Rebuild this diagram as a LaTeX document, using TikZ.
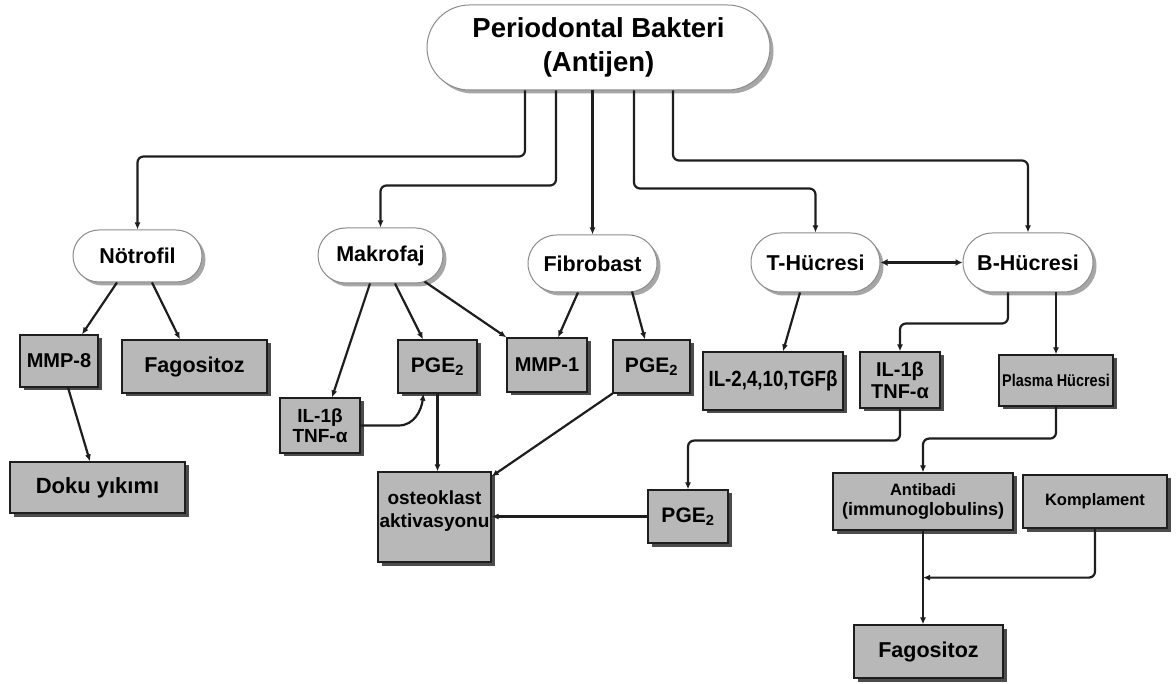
\documentclass[tikz,border=0pt]{standalone}
\usepackage{fontspec}
\setmainfont{Liberation Sans}
\newfontfamily\narrowsans{Liberation Sans}[FakeStretch=0.85]
\usetikzlibrary{arrows.meta,shapes.misc,shadows,calc}
\definecolor{boxfill}{RGB}{184,184,184}
\definecolor{inkline}{RGB}{30,30,30}
\newcommand\sz[2]{\fontsize{#1}{#2}\selectfont\bfseries}
\begin{document}
\begin{tikzpicture}[x=1pt,y=-1pt,
  cell/.style={rounded rectangle, draw=black!45, line width=1pt, fill=white,
    inner sep=0pt, align=center,
    drop shadow={shadow xshift=3.5pt, shadow yshift=-3.5pt, fill=black!35, opacity=1}},
  item/.style={rectangle, draw=inkline, line width=1.2pt, fill=boxfill,
    inner sep=0pt, align=center,
    drop shadow={shadow xshift=3.5pt, shadow yshift=-3.5pt, fill=black!70, opacity=1}},
  link/.style={draw=inkline, line width=2.2pt, -{Latex[length=7pt,width=6pt]}},
  elbow/.style={link, rounded corners=6pt}]

\useasboundingbox[fill=white] (0,0) rectangle (1176,684);

% root and cell types
\node[cell, minimum width=343pt, minimum height=85pt, font={\sz{27.5}{34}}] (top) at (598.5,47.5) {Periodontal Bakteri\\(Antijen)};
\node[cell, minimum width=129pt, minimum height=52pt, font={\sz{21.5}{24}}] (notrofil) at (137.5,256) {Nötrofil};
\node[cell, minimum width=125pt, minimum height=55pt, font={\sz{21.5}{24}}] (makrofaj) at (380.5,255.5) {Makrofaj};
\node[cell, minimum width=129pt, minimum height=57pt, font={\sz{21.5}{24}}] (fibrobast) at (592.5,263.5) {Fibrobast};
\node[cell, minimum width=129pt, minimum height=59pt, font={\sz{21.5}{24}}] (thucre) at (815.5,262.5) {T-Hücresi};
\node[cell, minimum width=130pt, minimum height=59pt, font={\sz{21.5}{24}}] (bhucre) at (1028,262.5) {B-Hücresi};

% products
\node[item, minimum width=78pt, minimum height=52pt, font={\sz{20}{22}}] (mmp8) at (59,361) {MMP-8};
\node[item, minimum width=145pt, minimum height=53pt, font={\sz{21.5}{24}}] (fago1) at (194.5,366.5) {Fagositoz};
\node[item, minimum width=175pt, minimum height=51pt, font={\sz{22}{24}}] (doku) at (97.5,487.5) {Doku yıkımı};
\node[item, minimum width=80pt, minimum height=55pt, font={\sz{19}{20}}] (ilL) at (320,425.5) {IL-1β\\TNF-α};
\node[item, minimum width=79pt, minimum height=53pt, font={\sz{21}{24}}] (pge1) at (437.5,366.5) {PGE\textsubscript{2}};
\node[item, minimum width=80pt, minimum height=54pt, font={\sz{20}{22}}] (mmp1) at (547,365) {MMP-1};
\node[item, minimum width=77pt, minimum height=53pt, font={\sz{21}{24}}] (pge2) at (651.5,366.5) {PGE\textsubscript{2}};
\node[item, minimum width=113pt, minimum height=90pt] (osteo) at (434.5,517) {};
\node[font={\sz{19}{23}}, align=center, inner sep=0pt] (osteolabel) at (434.5,511) {osteoklast\\aktivasyonu};
\node[item, minimum width=80pt, minimum height=53pt, font={\sz{21}{24}}] (pge3) at (688,516.5) {PGE\textsubscript{2}};
\node[item, minimum width=140pt, minimum height=58pt, font={\narrowsans\sz{22}{24}}] (il2) at (773,381) {IL-2,4,10,TGFβ};
\node[item, minimum width=80pt, minimum height=56pt, font={\sz{20}{22}}] (ilR) at (900,380) {IL-1β\\TNF-α};
\node[item, minimum width=114pt, minimum height=51pt, font={\narrowsans\sz{17}{20}}] (plasma) at (1056,380.5) {Plasma Hücresi};
\node[item, minimum width=180pt, minimum height=57pt, font={\sz{16.5}{20}}] (antibadi) at (923,501.5) {Antibadi\\{\fontsize{18}{20}\selectfont(immunoglobulins)}};
\node[item, minimum width=144pt, minimum height=53pt, font={\sz{16.5}{20}}] (kompl) at (1095,501.5) {Komplament};
\node[item, minimum width=149pt, minimum height=53pt, font={\sz{21.5}{24}}] (fago2) at (928.5,651.5) {Fagositoz};

% branches from the root
\draw[elbow] ([xshift=-73.5pt]top.south) -- ++(0,66) -| (notrofil.north);
\draw[elbow] ([xshift=-42.5pt]top.south) -- ++(0,95) -| (makrofaj.north);
\draw[link] (fibrobast.north |- top.south) -- (fibrobast.north);
\draw[elbow] ([xshift=35.5pt]top.south) -- ++(0,98) -| (thucre.north);
\draw[elbow] ([xshift=74.5pt]top.south) -- ++(0,70) -| (bhucre.north);

% neutrophil
\draw[link] ([xshift=-20.5pt]notrofil.south) -- ([xshift=23pt]mmp8.north);
\draw[link] ([xshift=14.5pt]notrofil.south) -- ([xshift=-14.5pt]fago1.north);
\draw[link] ([xshift=9pt]mmp8.south) -- ([xshift=-7.5pt]doku.north);

% macrophage
\draw[link] ([xshift=-10.5pt]makrofaj.south) -- ([xshift=12pt]ilL.north);
\draw[link] ([xshift=14.5pt]makrofaj.south) -- ([xshift=-14.5pt]pge1.north);
\draw[link] ([xshift=44pt,yshift=2pt]makrofaj.south) -- (mmp1.north west);
\draw[link] (ilL.east) -- ++(38,0) .. controls ++(16,0) and ([xshift=-16pt,yshift=-16pt]pge1.south) .. ([xshift=-14pt]pge1.south);
\draw[link] (pge1.south) -- (pge1.south |- osteo.north);

% fibroblast
\draw[link] ([xshift=-14.5pt]fibrobast.south) -- ([xshift=11pt]mmp1.north);
\draw[link] ([xshift=39.5pt,yshift=1pt]fibrobast.south) -- ([xshift=-6.5pt]pge2.north);
\draw[link] (pge2.south west) -- ([yshift=-5pt]osteo.north east);

% lymphocytes
\draw[draw=inkline, line width=3pt, {Latex[length=7pt,width=7pt]}-{Latex[length=7pt,width=7pt]}] (thucre.east) -- (bhucre.west);
\draw[link] ([xshift=-15.5pt]thucre.south) -- ([xshift=10pt]il2.north);
\draw[elbow] ([xshift=-20pt]bhucre.south) -- ++(0,31) -| (ilR.north);
\draw[link] (plasma.north |- bhucre.south) -- (plasma.north);
\draw[elbow] (ilR.south) -- ++(0,32) -| (pge3.north);
\draw[link] (pge3.west) -- (pge3.west -| osteo.east);
\draw[elbow] (plasma.south) -- ++(0,32) -| (antibadi.north);
\draw[link] (antibadi.south) -- (antibadi.south |- fago2.north);
\coordinate (join) at ($(antibadi.south)+(0,47)$);
\draw[elbow] (kompl.south) |- (join);
\end{tikzpicture}
\end{document}
